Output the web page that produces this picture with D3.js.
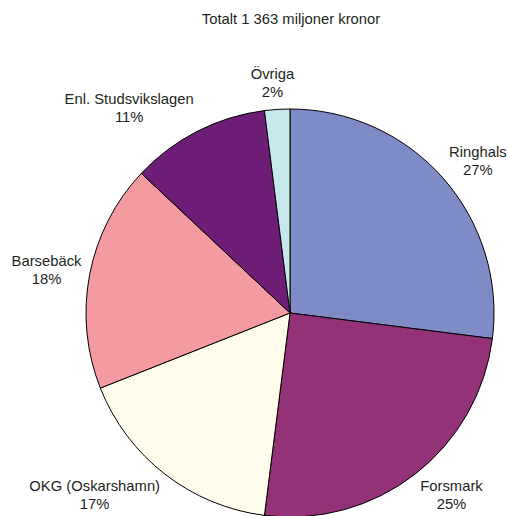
<!DOCTYPE html>
<html>
<head>
<meta charset="utf-8">
<script src="https://cdn.jsdelivr.net/npm/d3@7"></script>
<style>
  body { margin: 0; background: #fff; }
  text { font-family: "Liberation Sans", Arial, sans-serif; font-size: 14.8px; fill: #231f20; }
</style>
</head>
<body>
<script>
const m = {
    width: 507,
    height: 516
}

// andelar i procent, medurs från kl 12
const labels = ['Ringhals', 'Forsmark', 'OKG (Oskarshamn)', 'Barsebäck', 'Enl. Studsvikslagen', 'Övriga']
const shares = [27, 25, 17, 18, 11, 2]
const colors = ['#7f8bc6', '#943278', '#fffcec', '#f39ba0', '#6f1e77', '#c6e8ed']
const title = 'Totalt 1 363 miljoner kronor'

const cx = 290, cy = 313, r = 204

const svg = d3.select('body').append('svg')
    .attr('width', m.width)
    .attr('height', m.height)

svg.append('text')
    .attr('x', 291)
    .attr('y', 24)
    .attr('text-anchor', 'middle')
    .text(title)

const pie = d3.pie().sort(null).value(d => d)
const arcs = pie(shares)

const arc = d3.arc().innerRadius(0).outerRadius(r)

const g = svg.append('g')
    .attr('transform', `translate(${cx},${cy})`)

g.selectAll('path')
    .data(arcs)
    .enter()
    .append('path')
        .attr('d', arc)
        .attr('fill', (d, i) => colors[i])
        .attr('stroke', '#000')
        .attr('stroke-width', 1)

// etiketter utanför tårtan, ungefär som Excel placerar dem
const rl = r + 8
const lab = g.selectAll('.lab')
    .data(arcs)
    .enter()
    .append('text')
        .attr('class', 'lab')
        .attr('text-anchor', 'middle')

lab.append('tspan').attr('x', 0).attr('dy', 0).text((d, i) => labels[i])
lab.append('tspan').attr('x', 0).attr('dy', 18).text(d => d.data + '%')

lab.each(function(d) {
    const a = (d.startAngle + d.endAngle) / 2
    const s = Math.sin(a), c = -Math.cos(a)
    const bb = this.getBBox()
    const w = bb.width, h = 36
    const k = Math.sign(s) * Math.min(1, Math.abs(s) * 3)
    const x = s * rl + k * w / 2
    const y = c * rl + c * h / 2
    // y är mitten av två rader
    d3.select(this).attr('transform', `translate(${x},${y - 4})`)
})
</script>
</body>
</html>
